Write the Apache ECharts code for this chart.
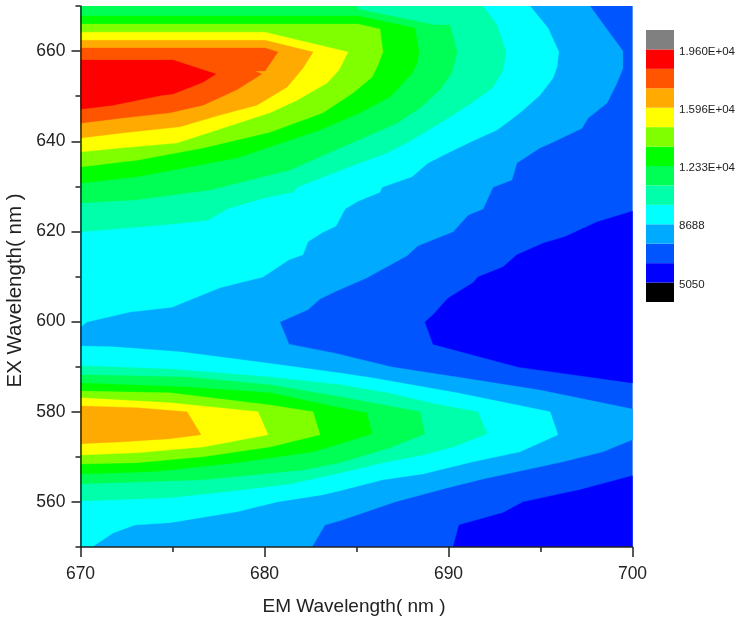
<!DOCTYPE html>
<html><head><meta charset="utf-8">
<style>html,body{margin:0;padding:0;background:#fff}#c{width:736px;height:619px}</style>
<script src="https://cdn.jsdelivr.net/npm/echarts@6/dist/echarts.min.js"></script>
</head><body><div id="c"></div>
<script>
// Contour bands: [EM wavelength, EX wavelength] vertices.
const band1Upper=[[700,624.5],[698.07,622.1],[696.33,618.8],[695.14,617.4],[693.72,614.8],[692.96,612.1],[691.6,609.9],[691.33,608.6],[689.97,605.2],[689.16,601.5],[688.72,599.9],[689.16,595],[693.78,589.9],[700,586.4]];
const band1Lower=[[700,565.8],[697.15,562.7],[694.05,560],[692.96,557.6],[690.57,554.9],[690.25,550],[700,550]];
const band2=[[670,670],[700,670],[700,550],[670,550]];
const band3=[[670,670],[697.69,670],[699.48,660],[699.48,656.2],[699.16,652.9],[698.62,648.5],[697.58,645.1],[697.26,642.9],[695.68,639.8],[694.97,638.5],[693.72,635.2],[693.45,631.4],[692.42,629.8],[691.88,625],[691.06,623.6],[690.25,619.9],[688.34,616.8],[687.75,614.6],[685.57,609.7],[683.83,606.6],[683.02,605],[682.36,602.6],[680.84,599.9],[681.33,595],[683.83,593],[686.93,589.9],[690.46,587.7],[694.97,584.8],[700,580.6],[700,573.8],[698.4,571.1],[696.22,568.9],[694.97,567.8],[691.88,565.1],[689.92,563.1],[687.09,560],[684.1,555.8],[683.29,554.9],[682.58,550],[670,550]];
const band4Upper=[[670,670],[694.43,670],[695.41,665.1],[696,659.8],[695.9,656.5],[695.68,654],[694.97,650.2],[694.05,646.9],[693.5,645.1],[692.64,642.5],[691.17,639.8],[689.97,637.4],[688.89,635.2],[688.02,632.1],[686.39,629.8],[686.28,628.7],[685.08,626.7],[684.38,625],[683.89,621.2],[683.13,619.7],[682.36,617.7],[682.09,614.8],[681.33,613.7],[679.92,609.9],[677.58,607.5],[674.97,603.2],[672.69,602.1],[670.35,599.9],[670,598.8]];
const band4Lower=[[670,594.6],[671.77,594.4],[675.41,593.3],[680.14,590.8],[684.1,588.6],[685.9,587.5],[690.46,584.2],[695.52,580],[695.95,574.9],[693.89,571.1],[691.33,568.9],[688.61,566.2],[686.44,564.9],[684.1,562.5],[683.18,561.6],[680.68,560],[678.5,557.8],[674.86,555.4],[672.96,554.9],[671.77,553.1],[670.63,550],[670,550]];
const band5Upper=[[670,670],[691.88,670],[692.64,665.8],[693.13,659.8],[692.96,655.8],[692.42,652],[691.33,648.7],[690.25,645.8],[688.02,640.3],[686.66,637.4],[684.48,634.1],[681.77,629.8],[681.55,628.7],[680.14,627.6],[677.96,625],[676.93,622.5],[674.48,621.4],[670,619.9]];
const band5Lower=[[670,590.2],[674.86,589.5],[680.3,587.7],[684.1,586],[686.66,584.2],[689.54,581.5],[691.6,580],[692.09,575.1],[690.25,572.2],[688.61,570.4],[686.44,568.7],[684.1,566.4],[681.39,564],[678.83,562.7],[674.86,560.9],[670,560.2]];
const band6Upper=[[670,670],[685.03,670],[685.08,669.3],[689.27,665.8],[690.08,665.8],[690.46,659.8],[690.19,655.3],[689.54,651.4],[688.45,647.4],[687.2,644],[684.1,638.5],[681.39,633.6],[677.04,629.2],[673.07,627],[670,626.3]];
const band6Lower=[[670,588.2],[675.79,587.7],[680.3,586],[684.1,583.3],[688.45,580],[688.72,575.1],[686.82,572],[684.1,568.7],[682.09,567.1],[676.66,564.9],[670,564]];
const band7Upper=[[670,667.8],[685.08,667.8],[688.18,665.1],[688.4,659.8],[688.29,657.3],[688.02,655.1],[686.82,649.8],[685.19,646.3],[683.02,642.5],[678.5,636.3],[673.07,632.1],[670,630.7]];
const band7Lower=[[670,586.4],[675.79,585.5],[680.3,584.2],[684.1,580.9],[685.57,579.7],[685.84,575.1],[684.1,572.9],[682.64,571.1],[678.5,568.7],[673.94,566.7],[670,566.2]];
const band8Upper=[[670,666],[685.08,666],[686.28,664.9],[686.44,659.8],[686.17,656.9],[685.84,654.2],[684.81,650.7],[683.18,646.3],[680.3,642],[676.66,638.5],[673.07,635.8],[670,634.3]];
const band8Lower=[[670,584.6],[674.86,584.2],[680.3,581.5],[682.64,580],[683.02,574.9],[680.3,572.2],[676.66,570],[673.07,568.7],[670,568.4]];
const band9Upper=[[670,664.2],[680.03,664.2],[684.54,659.8],[684.05,655.8],[683.4,652.9],[681.77,649.1],[680.3,646.3],[675.24,639.6],[672.15,638.5],[670,637.6]];
const band9Lower=[[670,583.1],[674.86,582],[679.65,580],[680.19,574.9],[676.66,572.2],[673.07,570.9],[670,570.4]];
const band10Upper=[[670,662.4],[680.03,662.4],[682.64,659.8],[682.09,656.2],[681.22,652],[679.59,648],[677.58,645.8],[675.41,643.2],[672.15,641.8],[670,640.7]];
const band10Lower=[[670,581.3],[673.07,580.9],[675.79,580],[676.55,574.9],[674.86,574],[672.15,573.3],[670,572.9]];
const band11=[[670,660.7],[680.03,660.7],[680.73,659.8],[680.03,655.6],[679.48,655.6],[679.86,654.9],[678.5,651.4],[676.66,648],[674.86,646.3],[672.15,645.1],[670,644]];
const band12=[[670,658],[675.03,658],[677.36,654.9],[676.66,653.1],[675.03,650.5],[674.43,650.2],[671.77,648],[670,647.1]];

// Colour scale, lowest to highest cell
const scaleColors=['#000000','#0000ff','#0055ff','#00aaff','#00ffff','#00ffaa','#00ff55','#00ff00','#80ff00','#ffff00','#ffaa00','#ff5500','#ff0000','#808080'];
const scaleLabels={1:'5050',4:'8688',7:'1.233E+04',10:'1.596E+04',13:'1.960E+04'};
const xMajor=[670,680,690,700];
const yMajor=[560,580,600,620,640,660];
const yMinor=[550,570,590,610,630,650,670];

const layers=[
 [band2,2],[band1Upper,1],[band1Lower,1],[band3,3],[band4Upper,4],[band4Lower,4],
 [band5Upper,5],[band5Lower,5],[band6Upper,6],[band6Lower,6],[band7Upper,7],[band7Lower,7],
 [band8Upper,8],[band8Lower,8],[band9Upper,9],[band9Lower,9],[band10Upper,10],[band10Lower,10],
 [band11,11],[band12,12]
];
const ink='#222';
const fam='"Liberation Sans",Arial,sans-serif';
const series=layers.map(([poly,c])=>({
  type:'custom',coordinateSystem:'cartesian2d',xAxisIndex:0,yAxisIndex:0,
  silent:true,animation:false,clip:true,data:poly,encode:{x:0,y:1},
  renderItem:(p,api)=>p.dataIndex!==0?null:({type:'polygon',shape:{points:poly.map(v=>api.coord(v))},style:{fill:scaleColors[c],stroke:scaleColors[c],lineWidth:0.3}})
}));
series.push({
  type:'custom',coordinateSystem:'cartesian2d',xAxisIndex:1,yAxisIndex:2,silent:true,animation:false,
  data:scaleColors.map((c,i)=>[0,i,1,i+1]),encode:{x:[0,2],y:[1,3]},
  renderItem:(p,api)=>{
    const a=api.coord([api.value(0),api.value(3)]),b=api.coord([api.value(2),api.value(1)]);
    return {type:'rect',shape:{x:a[0],y:a[1],width:b[0]-a[0],height:b[1]-a[1]},style:{fill:scaleColors[p.dataIndex]}};
  }
});
const chart=echarts.init(document.getElementById('c'),null,{renderer:'canvas'});
const line={show:true,onZero:false,lineStyle:{color:ink,width:1.5}};
chart.setOption({
  animation:false,backgroundColor:'#fff',
  grid:[
   {left:80.5,top:6,width:552,height:541,outerBoundsMode:'none'},
   {left:646,top:30,width:28,height:272,outerBoundsMode:'none'}
  ],
  xAxis:[
   {type:'value',gridIndex:0,min:670,max:700,interval:10,z:10,splitLine:{show:false},axisLine:line,
    axisTick:{show:true,length:10,lineStyle:{color:ink,width:1.5}},
    minorTick:{show:true,splitNumber:2,length:5,lineStyle:{color:ink,width:1.5}},
    axisLabel:{margin:18,fontSize:17.5,color:ink,fontFamily:fam,customValues:xMajor,hideOverlap:false},
    name:'EM Wavelength( nm )',nameLocation:'middle',nameGap:50,nameTextStyle:{fontSize:19,color:ink,fontFamily:fam,padding:[0,5,0,0]}},
   {type:'value',gridIndex:1,min:0,max:1,show:false}
  ],
  yAxis:[
   {type:'value',gridIndex:0,min:550,max:670,interval:10,z:10,splitLine:{show:false},axisLine:line,
    axisTick:{show:true,length:9,customValues:yMajor,lineStyle:{color:ink,width:1.5}},
    axisLabel:{margin:15,fontSize:17.5,color:ink,fontFamily:fam,customValues:yMajor},
    name:'EX Wavelength( nm )',nameLocation:'middle',nameGap:50,nameRotate:90,nameTextStyle:{fontSize:20.5,color:ink,fontFamily:fam,padding:[0,28,0,0]}},
   {type:'value',gridIndex:0,min:550,max:670,interval:10,z:10,splitLine:{show:false},position:'left',axisLine:{show:false},
    axisTick:{show:true,length:5,customValues:yMinor,lineStyle:{color:ink,width:1.5}},
    axisLabel:{show:false}},
   {type:'value',gridIndex:1,min:0,max:14,interval:1,position:'right',splitLine:{show:false},axisLine:{show:false},axisTick:{show:false},
    axisLabel:{margin:5,fontSize:11.5,color:ink,fontFamily:fam,verticalAlign:'top',lineHeight:4,showMinLabel:true,showMaxLabel:true,hideOverlap:false,formatter:v=>scaleLabels[v]||''}}
  ],
  series
});
</script></body></html>
